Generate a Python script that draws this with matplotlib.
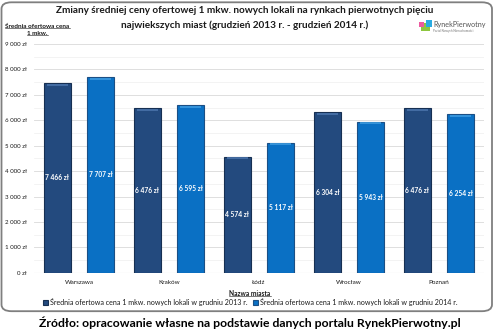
import matplotlib
matplotlib.use("Agg")
import matplotlib.pyplot as plt
from matplotlib.patches import FancyBboxPatch, Rectangle
from matplotlib.lines import Line2D
from matplotlib.ticker import MultipleLocator, FuncFormatter
import numpy as np

miasta = ["Warszawa", "Kraków", "Łódź", "Wrocław", "Poznań"]
ceny_2013 = [7466, 6476, 4574, 6304, 6476]
ceny_2014 = [7707, 6595, 5117, 5943, 6254]
serie = ["Średnia ofertowa cena 1 mkw. nowych lokali w grudniu 2013 r.",
         "Średnia ofertowa cena 1 mkw. nowych lokali w grudniu 2014 r."]

plt.rcParams['font.family'] = ['Lato', 'DejaVu Sans']

KOLOR_13 = '#234a7e'
KOLOR_14 = '#0a70c4'
TEKST = '#1a1a1a'

fig = plt.figure(figsize=(5, 3.3), dpi=100)

# ramka wokol wykresu
ramka = FancyBboxPatch((0.003, 0.057), 0.981, 0.936, transform=fig.transFigure,
                       boxstyle="round,pad=0,rounding_size=0.02",
                       facecolor='white', edgecolor='#7f7f7f', linewidth=1.3, zorder=-10)
fig.patches.append(ramka)

ax = fig.add_axes([0.068, 0.173, 0.9, 0.694])
ax.set_facecolor('none')

x = np.arange(len(miasta))
szer = 0.3
przes = 0.24

b1 = ax.bar(x - przes, ceny_2013, szer, color=KOLOR_13, edgecolor='#162f52', linewidth=0.8, zorder=3)
b2 = ax.bar(x + przes, ceny_2014, szer, color=KOLOR_14, edgecolor='#1b4f85', linewidth=0.8, zorder=3)

# jasniejszy pasek na gorze slupkow
ax.hlines(np.array(ceny_2013) - 70, x - przes - szer / 2 + 0.03, x - przes + szer / 2 - 0.03,
          color='#4a74ab', linewidth=1.2, zorder=4)
ax.hlines(np.array(ceny_2014) - 70, x + przes - szer / 2 + 0.03, x + przes + szer / 2 - 0.03,
          color='#3d9be0', linewidth=1.2, zorder=4)

fmt = lambda v: f"{int(v):,}".replace(",", " ") + " zł"

for xs, vals in ((x - przes, ceny_2013), (x + przes, ceny_2014)):
    for xi, v in zip(xs, vals):
        ax.text(xi, v / 2, fmt(v), ha='center', va='center', color='white',
                fontsize=4.8, fontweight='bold', zorder=5)

ax.set_xlim(-0.5, 4.5)
ax.set_ylim(0, 9000)
ax.yaxis.set_major_locator(MultipleLocator(1000))
ax.yaxis.set_minor_locator(MultipleLocator(500))
ax.yaxis.set_major_formatter(FuncFormatter(lambda v, p: fmt(v)))
ax.grid(axis='y', which='major', color='#d9d9d9', linewidth=0.6, zorder=0)
ax.grid(axis='y', which='minor', color='#efefef', linewidth=0.5, zorder=0)
ax.set_xticks(x)
ax.set_xticklabels(miasta)
ax.tick_params(axis='both', which='both', length=0, labelsize=4.6, colors=TEKST)
ax.tick_params(axis='y', pad=5, labelsize=4.4)
ax.tick_params(axis='x', pad=5)
for s in ax.spines.values():
    s.set_visible(False)
ax.axhline(0, color='#d9d9d9', linewidth=0.8, zorder=2)

fig.text(0.49, 0.968, "Zmiany średniej ceny ofertowej 1 mkw. nowych lokali na rynkach pierwotnych pięciu",
         ha='center', va='center', fontsize=7.2, fontweight='bold', color=TEKST)
fig.text(0.49, 0.923, "najwiekszych miast (grudzień 2013 r. - grudzień 2014 r.)",
         ha='center', va='center', fontsize=7.2, fontweight='bold', color=TEKST)

podpisy = []
podpisy.append(fig.text(0.075, 0.921, "Średnia ofertowa cena", ha='center', va='center',
                        fontsize=4.6, fontweight='bold', color=TEKST))
podpisy.append(fig.text(0.075, 0.898, "1 mkw.", ha='center', va='center',
                        fontsize=4.6, fontweight='bold', color=TEKST))
podpisy.append(fig.text(0.5, 0.112, "Nazwa miasta", ha='center', va='center',
                        fontsize=4.8, fontweight='bold', color=TEKST))

# legenda
leg = fig.legend([b1, b2], serie, loc='center', bbox_to_anchor=(0.5, 0.085), ncol=2,
                 frameon=False, fontsize=5.1, handlelength=0.7, handleheight=0.7,
                 handletextpad=0.3, columnspacing=0.8, borderpad=0)
for t in leg.get_texts():
    t.set_color(TEKST)

# logo portalu
fig.patches.append(Rectangle((0.842, 0.905), 0.018, 0.026, transform=fig.transFigure,
                             facecolor='#8dc63f', edgecolor='none'))
fig.patches.append(Rectangle((0.851, 0.918), 0.012, 0.02, transform=fig.transFigure,
                             facecolor='#29abe2', edgecolor='none'))
fig.patches.append(Rectangle((0.838, 0.918), 0.01, 0.016, transform=fig.transFigure,
                             facecolor='#ec5ba0', edgecolor='none'))
fig.text(0.866, 0.927, "RynekPierwotny", ha='left', va='center', fontsize=5.2, color='#555555')
fig.text(0.866, 0.907, "Portal Nowych Nieruchomości", ha='left', va='center', fontsize=2.2, color='#777777')

fig.text(0.5, 0.022, "Źródło: opracowanie własne na podstawie danych portalu RynekPierwotny.pl",
         ha='center', va='center', fontsize=8.8, fontweight='bold', color='black')

# podkreslenia podpisow osi
fig.canvas.draw()
r = fig.canvas.get_renderer()
inv = fig.transFigure.inverted()
for t in podpisy:
    bb = t.get_window_extent(r)
    (x0, y0), (x1, y1) = inv.transform([(bb.x0, bb.y0), (bb.x1, bb.y1)])
    fig.lines.append(Line2D([x0, x1], [y0 + 0.002, y0 + 0.002], transform=fig.transFigure,
                            color=TEKST, linewidth=0.4))

fig.savefig("out.png", dpi=100)
